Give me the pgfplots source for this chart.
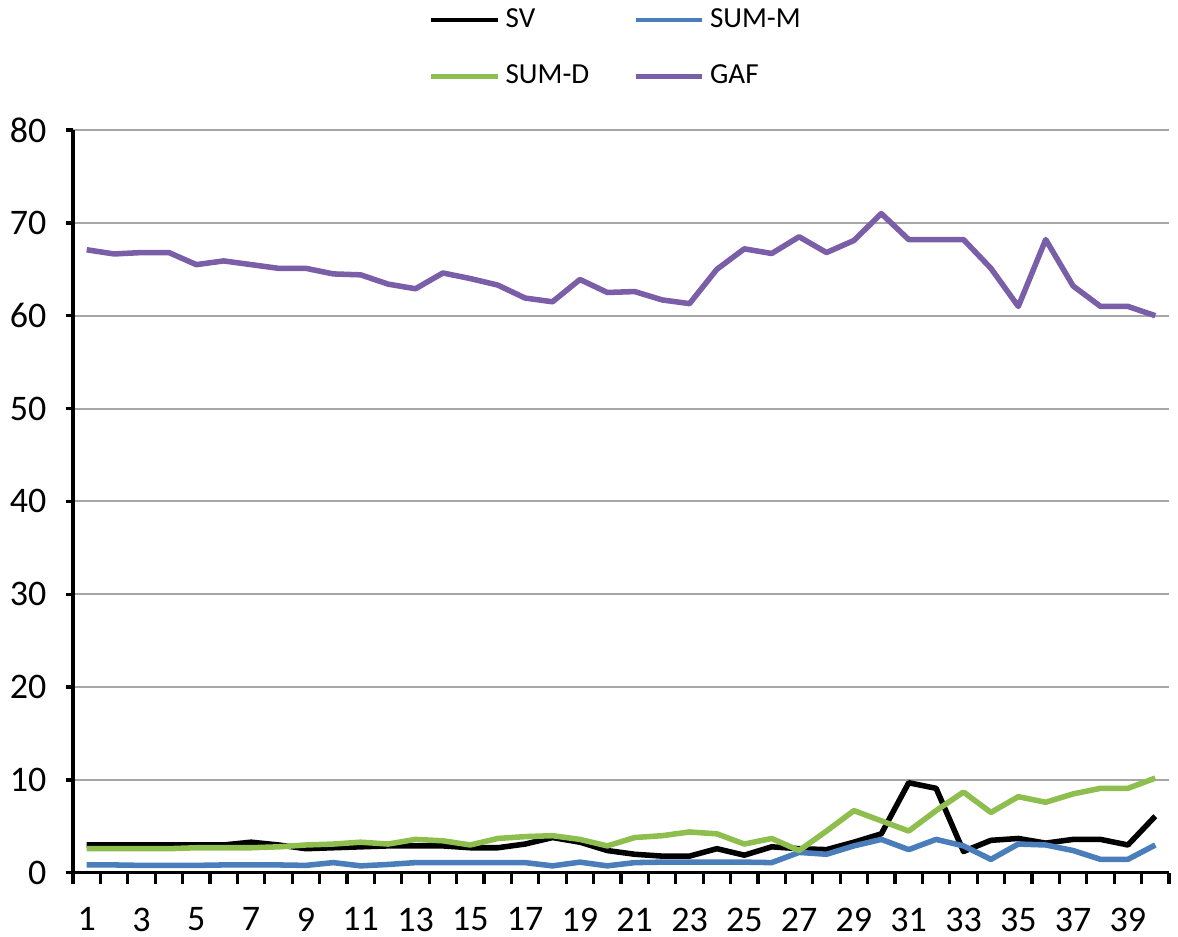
\documentclass[border=0pt]{standalone}
\usepackage{pgfplots}
\pgfplotsset{compat=1.18}
\usepackage{fontspec}
\setmainfont{Carlito}
\definecolor{cblue}{HTML}{4A7EBB}
\definecolor{cgreen}{HTML}{8DBE4E}
\definecolor{cpurple}{HTML}{7B5EA8}
\definecolor{cgrid}{HTML}{A6A6A6}
\begin{document}
\begin{tikzpicture}[x=1pt,y=1pt]
\begin{axis}[
  scale only axis,
  width=395.7pt, height=268.2pt,
  xmin=0.5, xmax=40.5, ymin=0, ymax=80,
  clip=false,
  axis x line*=bottom, axis y line*=left,
  axis line style={line width=1.2pt, black, -},
  xtick={1,3,...,39},
  major x tick style={draw=none},
  minor xtick={0.5,1.5,...,40.5},
  minor x tick style={line width=1.2pt, black},
  minor tick length=4pt,
  ytick={0,10,...,80},
  major y tick style={line width=1.2pt, black},
  major tick length=2.6pt,
  tick align=outside,
  ymajorgrids,
  grid style={line width=0.7pt, cgrid},
  /pgf/number format/assume math mode=true,
  tick label style={font=\fontsize{13}{15}\selectfont},
  xticklabel style={yshift=-6.5pt},
  yticklabel style={xshift=-3.5pt},
  legend columns=2,
  legend cell align=left,
  legend style={draw=none, fill=none, at={(rel axis cs:0.497,1.110)}, anchor=center,
    font=\fontsize{10.5}{12}\selectfont, row sep=8pt,
    /tikz/every even column/.append style={column sep=14pt}},
  legend image code/.code={\draw[line width=1.6pt,#1] (0pt,0pt) -- (24pt,0pt);},
  every axis plot/.append style={line width=2pt, line join=round},
]
\coordinate (BL) at (rel axis cs:-0.0666,-0.0861);
\coordinate (TR) at (rel axis cs:1.0082,1.1750);
% SV
\addplot[black] coordinates {
(1,3.0)(2,3.0)(3,3.0)(4,3.0)(5,3.0)(6,3.0)(7,3.3)(8,3.0)(9,2.6)(10,2.7)
(11,2.8)(12,2.9)(13,2.9)(14,2.9)(15,2.7)(16,2.7)(17,3.1)(18,3.8)(19,3.3)(20,2.4)
(21,2.0)(22,1.8)(23,1.8)(24,2.6)(25,1.9)(26,2.8)(27,2.6)(28,2.5)(29,3.3)(30,4.2)
(31,9.7)(32,9.1)(33,2.3)(34,3.5)(35,3.7)(36,3.2)(37,3.6)(38,3.6)(39,3.0)(40,6.1)};
\addlegendentry{SV}
% SUM-M
\addplot[cblue] coordinates {
(1,0.85)(2,0.85)(3,0.8)(4,0.8)(5,0.8)(6,0.85)(7,0.85)(8,0.85)(9,0.8)(10,1.1)
(11,0.75)(12,0.9)(13,1.1)(14,1.1)(15,1.1)(16,1.1)(17,1.1)(18,0.75)(19,1.15)(20,0.75)
(21,1.1)(22,1.15)(23,1.15)(24,1.15)(25,1.15)(26,1.1)(27,2.2)(28,2.0)(29,2.9)(30,3.6)
(31,2.5)(32,3.6)(33,2.9)(34,1.45)(35,3.1)(36,3.0)(37,2.4)(38,1.45)(39,1.45)(40,3.0)};
\addlegendentry{SUM-M}
% SUM-D
\addplot[cgreen] coordinates {
(1,2.6)(2,2.6)(3,2.6)(4,2.6)(5,2.7)(6,2.7)(7,2.7)(8,2.8)(9,3.0)(10,3.1)
(11,3.3)(12,3.1)(13,3.6)(14,3.45)(15,3.0)(16,3.7)(17,3.9)(18,4.0)(19,3.6)(20,2.9)
(21,3.8)(22,4.0)(23,4.4)(24,4.2)(25,3.1)(26,3.7)(27,2.4)(28,4.5)(29,6.7)(30,5.6)
(31,4.5)(32,6.7)(33,8.7)(34,6.5)(35,8.2)(36,7.6)(37,8.5)(38,9.1)(39,9.1)(40,10.2)};
\addlegendentry{SUM-D}
% GAF
\addplot[cpurple] coordinates {
(1,67.1)(2,66.65)(3,66.8)(4,66.8)(5,65.5)(6,65.9)(7,65.5)(8,65.1)(9,65.1)(10,64.5)
(11,64.4)(12,63.4)(13,62.9)(14,64.6)(15,64.0)(16,63.3)(17,61.9)(18,61.5)(19,63.9)(20,62.5)
(21,62.6)(22,61.7)(23,61.3)(24,65.0)(25,67.2)(26,66.7)(27,68.5)(28,66.8)(29,68.1)(30,71.0)
(31,68.2)(32,68.2)(33,68.2)(34,65.1)(35,61.0)(36,68.2)(37,63.2)(38,61.0)(39,61.0)(40,60.0)};
\addlegendentry{GAF}
\end{axis}
\pgfresetboundingbox
\path[use as bounding box] (BL) rectangle (TR);
\end{tikzpicture}
\end{document}
